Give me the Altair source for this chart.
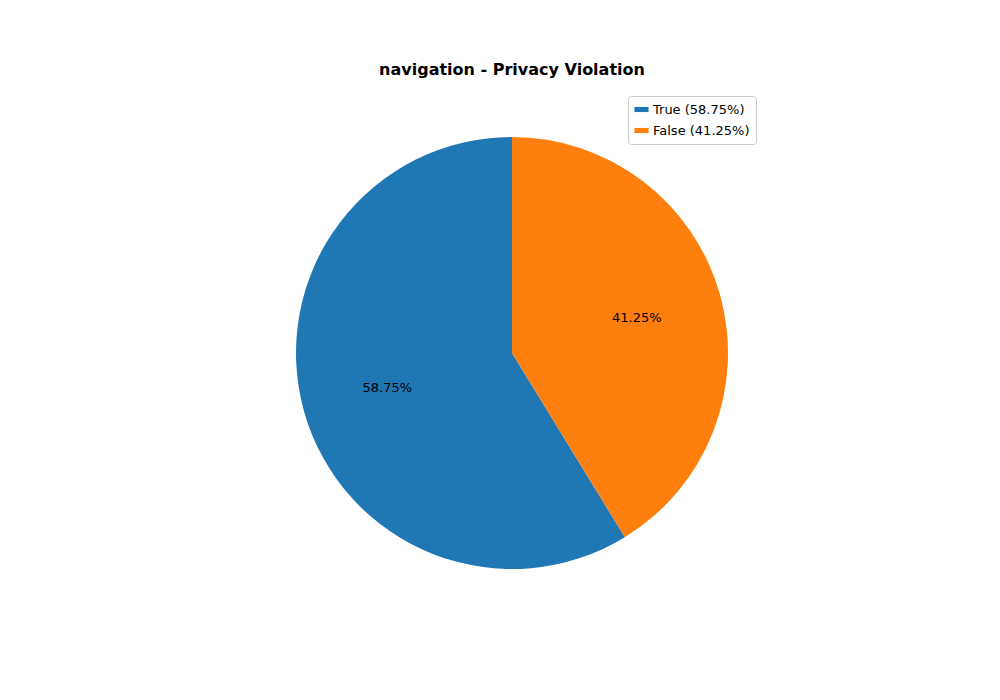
import altair as alt
import pandas as pd

labels = ["True (58.75%)", "False (41.25%)"]
values = [58.75, 41.25]
pct_text = ["58.75%", "41.25%"]
colors = ["#1f77b4", "#ff7f0e"]
draw_order = [2, 1]  # False first clockwise from top, like matplotlib counterclockwise

df = pd.DataFrame({"label": labels, "value": values, "pct": pct_text, "ord": draw_order})

cx, cy, r = 504, 345, 216
font = "DejaVu Sans"

base = alt.Chart(df).encode(
    theta=alt.Theta("value:Q", stack=True),
    order=alt.Order("ord:Q"),
)

pie = base.mark_arc(outerRadius=r, x=cx, y=cy).encode(
    color=alt.Color(
        "label:N",
        sort=labels,
        scale=alt.Scale(domain=labels, range=colors),
        legend=alt.Legend(
            title=None, orient="none", legendX=620, legendY=88,
            symbolType="M-1,-0.36L1,-0.36L1,0.36L-1,0.36Z", symbolSize=200,
            symbolStrokeWidth=0, labelFont=font, labelFontSize=13,
            fillColor="white", strokeColor="#cccccc", padding=6, rowPadding=6,
            cornerRadius=3,
        ),
    )
)

txt = base.mark_text(radius=r * 0.6, x=cx, y=cy, font=font, fontSize=13, color="black").encode(
    text="pct:N"
)

title = alt.Chart(pd.DataFrame({"t": ["navigation - Privacy Violation"]})).mark_text(
    font=font, fontSize=16, fontWeight="bold", color="black"
).encode(x=alt.value(cx), y=alt.value(62), text="t:N")

chart = alt.layer(pie, txt, title).properties(
    width=984, height=684, padding=0,
    autosize=alt.AutoSizeParams(type="none"),
).configure_view(stroke=None)

chart.save("out.html", embed_options={"renderer": "svg", "actions": False})
